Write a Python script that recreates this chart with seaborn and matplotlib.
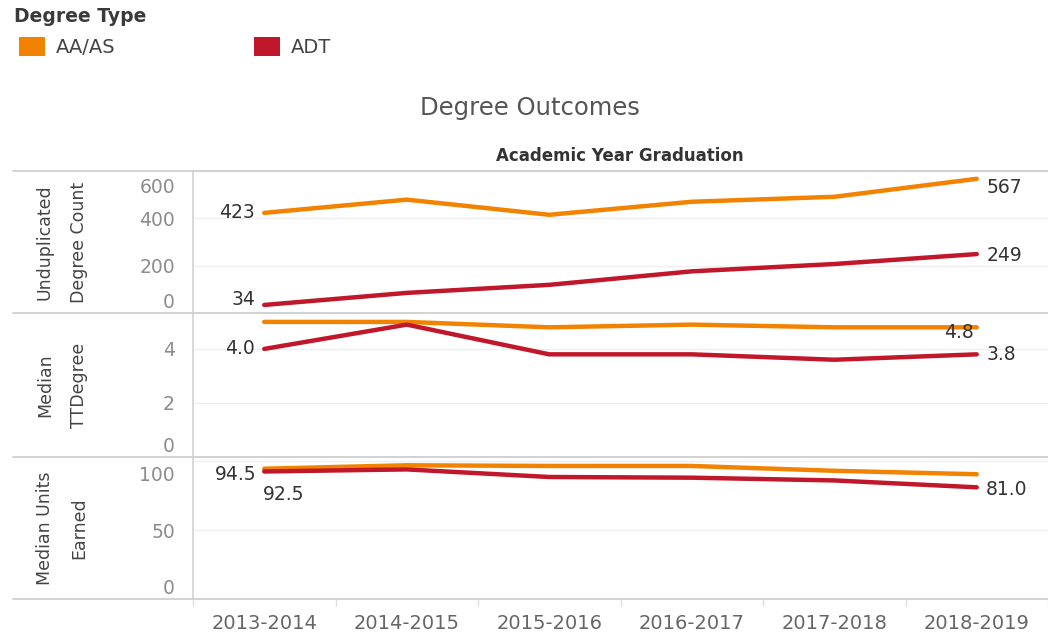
import pandas as pd
import matplotlib.pyplot as plt
import matplotlib.transforms as mtransforms
from matplotlib.lines import Line2D
from matplotlib.patches import Patch
import seaborn as sns

# style
sns.set_style("white")
plt.rcParams["font.family"] = ["DejaVu Sans"]

# data
years = ["2013-2014", "2014-2015", "2015-2016", "2016-2017", "2017-2018", "2018-2019"]
degree_types = ["AA/AS", "ADT"]

aa_count = [423, 479, 415, 470, 491, 567]
adt_count = [34, 85, 119, 176, 207, 249]

aa_ttd = [5.0, 5.0, 4.8, 4.9, 4.8, 4.8]
adt_ttd = [4.0, 4.9, 3.8, 3.8, 3.6, 3.8]

aa_units = [94.5, 97.0, 96.5, 96.5, 93.0, 90.5]
adt_units = [92.5, 94.0, 88.5, 88.0, 86.0, 81.0]

metrics = ["Unduplicated\nDegree Count", "Median\nTTDegree", "Median Units\nEarned"]
series = {
    metrics[0]: (aa_count, adt_count),
    metrics[1]: (aa_ttd, adt_ttd),
    metrics[2]: (aa_units, adt_units),
}

colors = {"AA/AS": "#F28300", "ADT": "#C1172B"}

rows = []
for m, (aa, adt) in series.items():
    for i, y in enumerate(years):
        rows.append({"metric": m, "pos": i, "year": y, "type": "AA/AS", "value": aa[i]})
        rows.append({"metric": m, "pos": i, "year": y, "type": "ADT", "value": adt[i]})
df = pd.DataFrame(rows)

# layout in pixels
W, H = 1048, 634
fig = plt.figure(figsize=(W / 100, H / 100), dpi=100)

def box(x0, y0, x1, y1):
    return [x0 / W, 1 - y1 / H, (x1 - x0) / W, (y1 - y0) / H]

panel_y = [(171, 313), (313, 457), (457, 599)]
ylims = [(0, 600), (0, 5.33), (0, 103)]
yticks = [[0, 200, 400, 600], [0, 2, 4], [0, 50, 100]]
# tableau nudges the edge labels inside the pane (pixels, + is up)
label_shift = [{0: 13, 600: -14}, {0: 13}, {0: 12, 100: -12}]

# label offsets in pixels: (series, index) -> (dx, dy, ha)
labels = [
    {("AA/AS", 0): (-9, 0, "right"), ("ADT", 0): (-9, 5, "right"),
     ("AA/AS", 5): (10, -9, "left"), ("ADT", 5): (10, -1, "left")},
    {("ADT", 0): (-9, 0, "right"), ("AA/AS", 5): (-3, -5, "right"),
     ("ADT", 5): (10, 0, "left")},
    {("AA/AS", 0): (-8, -6, "right"), ("ADT", 0): (-1, -23, "left"),
     ("ADT", 5): (9, -2, "left")},
]
fmt = ["{:.0f}", "{:.1f}", "{:.1f}"]

axes = []
for k, m in enumerate(metrics):
    y0, y1 = panel_y[k]
    ax = fig.add_axes(box(193, y0, 1048, y1))
    axes.append(ax)
    sub = df[df["metric"] == m]

    sns.lineplot(
        data=sub, x="pos", y="value", hue="type", hue_order=degree_types,
        palette=colors, linewidth=3.2, legend=False, ax=ax,
        solid_capstyle="round", sort=False,
    )

    ax.set_xlim(-0.5, 5.5)
    ax.set_ylim(*ylims[k])
    ax.set_yticks(yticks[k])
    ax.yaxis.grid(True, color="#efefef", linewidth=1)
    ax.set_axisbelow(True)
    for s in ["top", "right", "bottom"]:
        ax.spines[s].set_visible(False)
    ax.spines["left"].set_color("#d2d2d2")
    ax.spines["left"].set_linewidth(1.2)
    ax.tick_params(axis="y", length=0, pad=13, labelsize=13.5, labelcolor="#8c8c8c")
    ax.set_xlabel("")
    ax.set_ylabel("")

    for lab, val in zip(ax.get_yticklabels(), yticks[k]):
        dy = label_shift[k].get(val, 0)
        if dy:
            off = mtransforms.ScaledTranslation(0, dy / 100, fig.dpi_scale_trans)
            lab.set_transform(lab.get_transform() + off)

    # data labels
    for (t, i), (dx, dy, ha) in labels[k].items():
        val = series[m][degree_types.index(t)][i]
        ax.annotate(fmt[k].format(val), xy=(i, val), xytext=(dx, dy),
                    textcoords="offset pixels", ha=ha, va="center",
                    fontsize=13.5, color="#333333")

    # row header
    fig.text(62 / W, 1 - (y0 + y1) / 2 / H, m, rotation=90, ha="center", va="center",
             multialignment="center", fontsize=12.5, color="#444444", linespacing=2.15)

    if k < 2:
        ax.set_xticks(range(len(years)))
        ax.tick_params(axis="x", length=0, labelbottom=False)
    else:
        ax.set_xticks(range(len(years)), years)
        ax.set_xticks([i - 0.5 for i in range(len(years) + 1)], minor=True)
        ax.tick_params(axis="x", which="major", length=0, pad=11, labelsize=14,
                       labelcolor="#666666")
        ax.tick_params(axis="x", which="minor", bottom=True, length=5,
                       color="#dddddd", width=1)

# pane separators
for y in [171, 313, 457, 599]:
    fig.add_artist(Line2D([13 / W, 1], [1 - y / H, 1 - y / H], transform=fig.transFigure,
                          color="#cfcfcf", linewidth=1.3))

# titles
fig.text(530 / W, 1 - 108 / H, "Degree Outcomes", ha="center", va="center",
         fontsize=17.5, color="#555555")
fig.text(620 / W, 1 - 156 / H, "Academic Year Graduation", ha="center", va="center",
         fontsize=12, fontweight="semibold", color="#333333")

# legend
fig.text(14 / W, 1 - 17 / H, "Degree Type", ha="left", va="center",
         fontsize=13.5, fontweight="semibold", color="#3a3a3a")
handles = [Patch(facecolor=colors[t], edgecolor="none", label=t) for t in degree_types]
fig.legend(handles=handles, loc="upper left", bbox_to_anchor=(19 / W, 1 - 37 / H),
           ncol=2, frameon=False, fontsize=14, borderpad=0, borderaxespad=0,
           handlelength=1.35, handleheight=1.1, handletextpad=0.55,
           columnspacing=7.1, labelcolor="#444444")

plt.savefig("out.png", dpi=100)
plt.close()
